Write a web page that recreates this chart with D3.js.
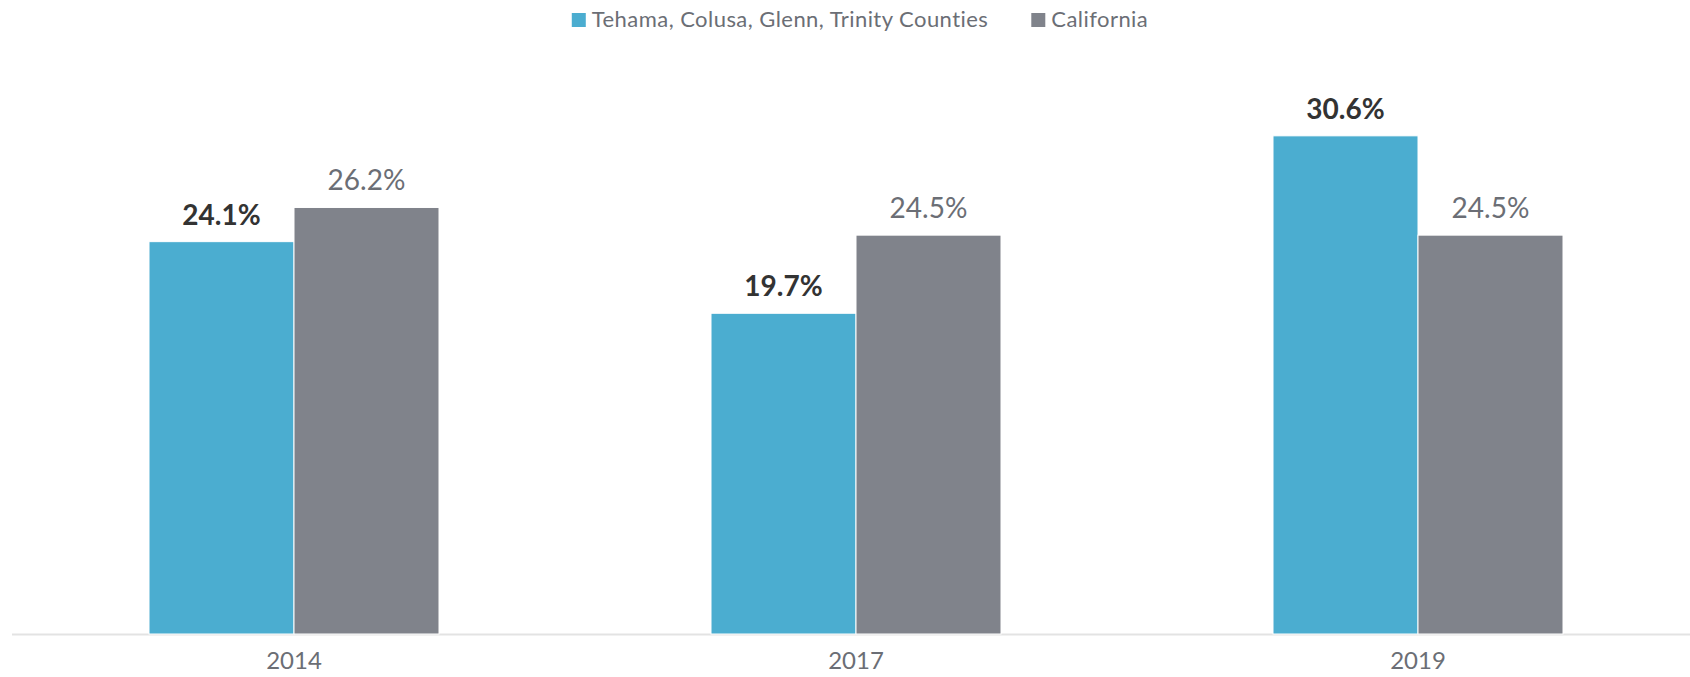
<!DOCTYPE html>
<html>
<head>
<meta charset="utf-8">
<script src="https://cdn.jsdelivr.net/npm/d3@7"></script>
<style>
  body { margin: 0; background: #fff; }
  svg text { font-family: Lato, "Open Sans", sans-serif; }
</style>
</head>
<body>
<div id="chart"></div>
<script>
// data
var years = ['2014', '2017', '2019'];
var seriesNames = ['Tehama, Colusa, Glenn, Trinity Counties', 'California'];
var region = [24.1, 19.7, 30.6];
var california = [26.2, 24.5, 24.5];

var width = 1690;
var height = 677;
var baseY = 634;
var colors = ['#4badd0', '#80838b'];
var labelColors = ['#333333', '#6b6e75'];

var svg = d3.select('#chart').append('svg')
  .attr('width', width)
  .attr('height', height);

var x0 = d3.scaleBand()
  .domain(years)
  .range([13, 1699])
  .paddingInner(0.484)
  .paddingOuter(0.242);

var x1 = d3.scaleBand()
  .domain([0, 1])
  .range([0, x0.bandwidth()]);

var y = d3.scaleLinear()
  .domain([0, 35])
  .range([baseY, baseY - 35 * 16.28]);

var rows = years.map(function(yr, i) {
  return { year: yr, values: [region[i], california[i]] };
});

// baseline
svg.append('line')
  .attr('x1', 12).attr('x2', width)
  .attr('y1', baseY + 0.5).attr('y2', baseY + 0.5)
  .attr('stroke', '#e3e3e3')
  .attr('stroke-width', 2);

var groups = svg.selectAll('g.year').data(rows)
  .enter().append('g')
  .attr('class', 'year')
  .attr('transform', function(d) { return 'translate(' + x0(d.year) + ',0)'; });

groups.selectAll('rect').data(function(d) { return d.values; })
  .enter().append('rect')
  .attr('x', function(d, i) { return x1(i); })
  .attr('y', function(d) { return y(d); })
  .attr('width', x1.bandwidth())
  .attr('height', function(d) { return baseY - y(d); })
  .attr('fill', function(d, i) { return colors[i]; })
  .attr('stroke', '#fff')
  .attr('stroke-width', 1);

groups.selectAll('text.val').data(function(d) { return d.values; })
  .enter().append('text')
  .attr('class', 'val')
  .attr('x', function(d, i) { return x1(i) + x1.bandwidth() / 2; })
  .attr('y', function(d) { return y(d) - 17; })
  .attr('text-anchor', 'middle')
  .attr('font-size', 28)
  .attr('font-weight', function(d, i) { return i === 0 ? 'bold' : 'normal'; })
  .attr('fill', function(d, i) { return labelColors[i]; })
  .text(function(d) { return d.toFixed(1) + '%'; });

// x axis labels
var xAxis = d3.axisBottom(x0).tickSize(0).tickPadding(18);
var ax = svg.append('g')
  .attr('transform', 'translate(0,' + baseY + ')')
  .call(xAxis);
ax.select('.domain').remove();
ax.selectAll('text')
  .attr('font-size', 24)
  .attr('fill', '#6b6e75')
  .style('font-family', 'Lato, sans-serif');

// legend
var legend = svg.append('g');
var lx = 0;
seriesNames.forEach(function(name, i) {
  var item = legend.append('g').attr('transform', 'translate(' + lx + ',0)');
  item.append('rect')
    .attr('x', 0).attr('y', 13)
    .attr('width', 14).attr('height', 14)
    .attr('fill', colors[i]);
  var t = item.append('text')
    .attr('x', 20).attr('y', 27)
    .attr('font-size', 22)
    .attr('letter-spacing', 0.45)
    .attr('fill', '#6b6e75')
    .text(name);
  lx += 20 + t.node().getComputedTextLength() + 43;
});
var lw = lx - 43;
legend.attr('transform', 'translate(' + (860 - lw / 2) + ',0)');
</script>
</body>
</html>
